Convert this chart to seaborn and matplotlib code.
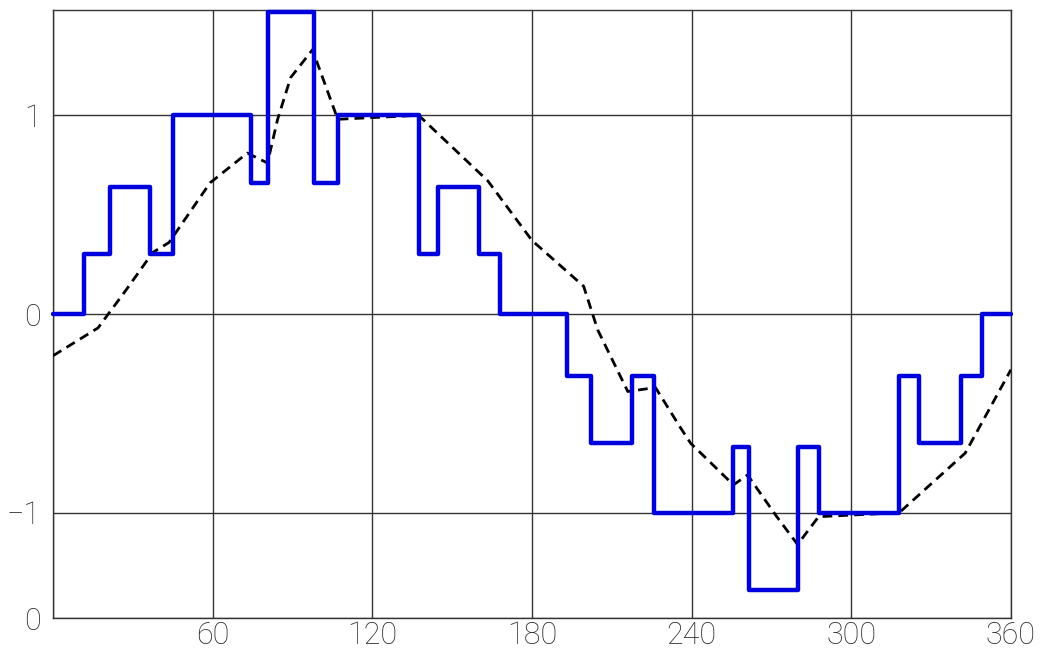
import numpy as np
import pandas as pd
import seaborn as sns
import matplotlib.pyplot as plt

# blue staircase: step starts (deg) and level held until the next start
step_x = [0, 11.6, 21.4, 36.4, 45, 74.4, 80.7, 98, 107, 137.4, 144.6, 160, 168,
          193, 202, 217.4, 225.7, 255.4, 261.4, 279.8, 287.7, 318, 325.6, 341.3,
          349, 360]
step_y = [0, 0.30, 0.64, 0.30, 1.0, 0.66, 1.52, 0.66, 1.0, 0.30, 0.64, 0.30, 0,
          -0.31, -0.65, -0.31, -1.0, -0.67, -1.39, -0.67, -1.0, -0.31, -0.65,
          -0.31, 0, 0]

# black dashed curve
curve_x = [0, 16.9, 27.4, 37.5, 43.6, 59, 73, 80.6, 84.4, 89.3, 97.5, 107, 137.4,
           163.4, 180, 199.4, 204.7, 216, 226.4, 235.7, 239.6, 255.7, 261, 272,
           279.8, 287.7, 318, 342.8, 360]
curve_y = [-0.21, -0.07, 0.12, 0.31, 0.36, 0.66, 0.81, 0.76, 0.98, 1.19, 1.33,
           0.98, 1.0, 0.67, 0.37, 0.14, -0.08, -0.39, -0.37, -0.57, -0.65, -0.86,
           -0.81, -1.02, -1.16, -1.02, -1.0, -0.70, -0.28]

x_ticks = [60, 120, 180, 240, 300, 360]
y_ticks = [1, 0, -1]
y_min, y_max = -1.53, 1.53

sns.set_style("white")
plt.rcParams['font.family'] = ['Roboto', 'DejaVu Sans']

fig = plt.figure(figsize=(10.46, 6.54), dpi=100)
ax = fig.add_axes([0.0507, 0.055, 0.9158, 0.9297])

steps = pd.DataFrame({"x": step_x, "y": step_y})
curve = pd.DataFrame({"x": curve_x, "y": curve_y})

sns.lineplot(data=curve, x="x", y="y", ax=ax, sort=False, estimator=None,
             color="black", lw=2, dashes=False, linestyle=(0, (3.5, 2.2)), zorder=3)
sns.lineplot(data=steps, x="x", y="y", ax=ax, sort=False, estimator=None,
             color="#0000dd", lw=3.2, drawstyle="steps-post", zorder=4, clip_on=False)

ax.set_xlim(0, 360)
ax.set_ylim(y_min, y_max)
ax.set_xticks([0, 60, 120, 180, 240, 300, 360])
ax.set_xticklabels([""] + [str(t) for t in x_ticks])
ax.set_yticks([y_min] + y_ticks)
ax.set_yticklabels(["0", "1", "0", "\u22121"])
ax.grid(True, color="#333333", lw=1)
ax.tick_params(length=0, labelsize=22, labelcolor="#2a2a2a")
ax.tick_params(axis="x", pad=2)
ax.tick_params(axis="y", pad=9)
for s in ax.spines.values():
    s.set_color("#333333")
    s.set_linewidth(1)
for lbl in ax.get_xticklabels() + ax.get_yticklabels():
    lbl.set_fontweight("light")
ax.set_xlabel("")
ax.set_ylabel("")

fig.savefig("out.png", dpi=100)
